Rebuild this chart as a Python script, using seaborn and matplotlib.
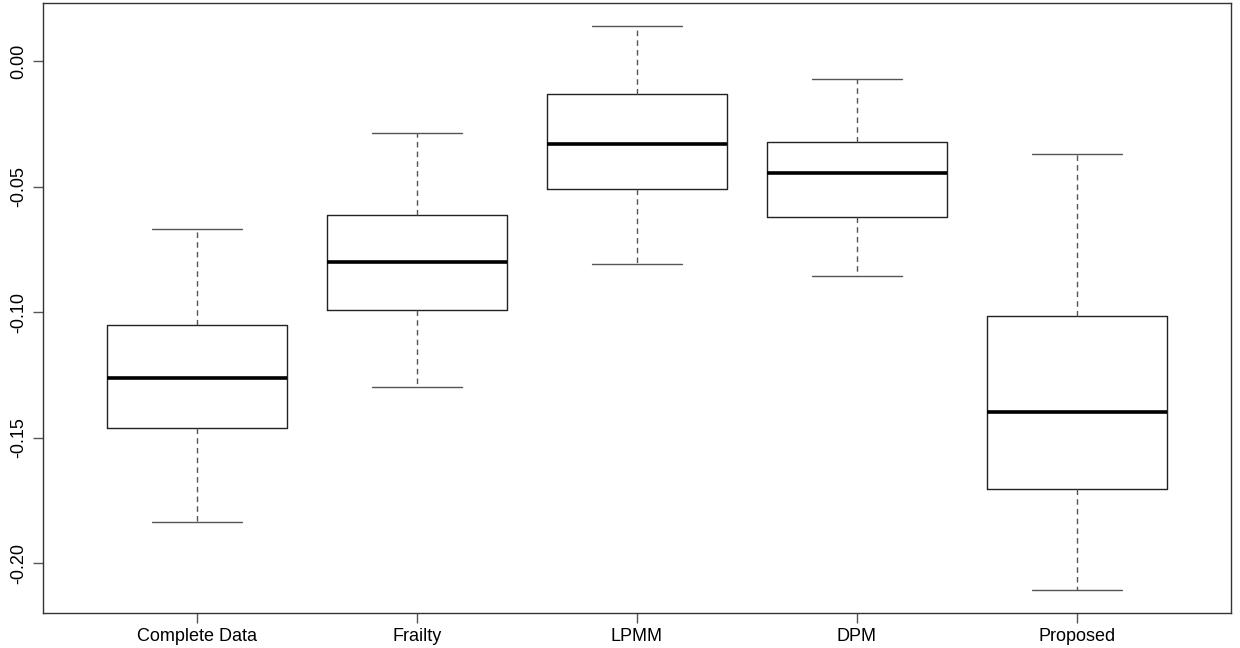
import numpy as np
import pandas as pd
import matplotlib
matplotlib.use("Agg")
import matplotlib.pyplot as plt
import seaborn as sns

# Five-number summaries (min, Q1, median, Q3, max)
methods = ["Complete Data", "Frailty", "LPMM", "DPM", "Proposed"]
complete_data = [-0.1835, -0.1462, -0.1261, -0.1052, -0.0667]
frailty = [-0.1298, -0.0992, -0.0801, -0.0613, -0.0287]
lpmm = [-0.0808, -0.0510, -0.0330, -0.0131, 0.0139]
dpm = [-0.0856, -0.0621, -0.0446, -0.0322, -0.0072]
proposed = [-0.2106, -0.1703, -0.1399, -0.1015, -0.0370]
yticks = [0.00, -0.05, -0.10, -0.15, -0.20]
ytick_labels = ["0.00", "-0.05", "-0.10", "-0.15", "-0.20"]

series = [complete_data, frailty, lpmm, dpm, proposed]
df = pd.DataFrame({
    "method": np.repeat(methods, 5),
    "value": np.concatenate(series),
})

sns.set_style("white")
plt.rcParams["font.family"] = ["Liberation Sans", "DejaVu Sans"]

fig = plt.figure(figsize=(12.4, 6.48), dpi=100)
ax = fig.add_axes([43 / 1240, (648 - 612.7) / 648, (1231 - 43) / 1240, (612.7 - 3.3) / 648])

sns.boxplot(
    data=df, x="method", y="value", order=methods, ax=ax,
    whis=(0, 100), width=0.815, fill=False, color="#222222", linecolor="#222222",
    linewidth=1.0,
    boxprops=dict(color="#222222", linewidth=1.0),
    whiskerprops=dict(linestyle=(0, (4, 3)), color="#555555", linewidth=1.0),
    capprops=dict(color="#555555", linewidth=1.0),
    medianprops=dict(color="black", linewidth=2.6),
    showfliers=False,
)

ax.set_xlim(-0.7, 4.7)
ax.set_ylim(-0.2196, 0.02297)
ax.set_yticks(yticks)
ax.set_yticklabels(ytick_labels, rotation=90, va="center", fontsize=13)
ax.set_xticks(range(len(methods)))
ax.set_xticklabels(methods, fontsize=13)
ax.set_xlabel("")
ax.set_ylabel("")
ax.tick_params(axis="both", direction="out", length=7, width=1, color="#555555",
               left=True, bottom=True, pad=4, labelcolor="black")
for s in ax.spines.values():
    s.set_visible(True)
    s.set_color("#333333")
    s.set_linewidth(1.0)

fig.savefig("out.png", dpi=100, facecolor="white")
